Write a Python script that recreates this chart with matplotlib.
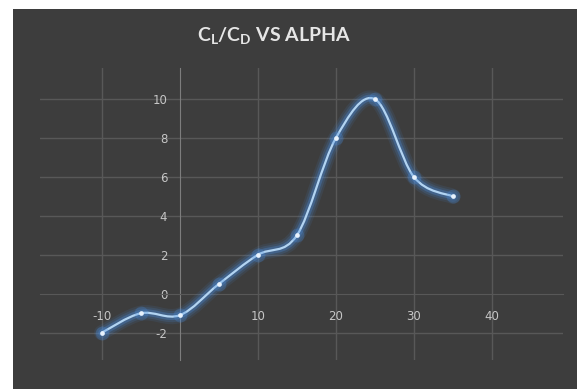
import matplotlib
matplotlib.use('Agg')
import matplotlib.pyplot as plt
from matplotlib.path import Path
from matplotlib.patches import PathPatch, Rectangle
import numpy as np

plt.rcParams['axes.unicode_minus'] = False

alpha = [-10, -5, 0, 5, 10, 15, 20, 25, 30, 35]
cl_cd = [-2, -1, -1.1, 0.5, 2, 3, 8, 10, 6, 5]
x_ticks = [-10, 10, 20, 30, 40]
x_labels = ['-10', '10', '20', '30', '40']
y_ticks = [-2, 0, 2, 4, 6, 8, 10]

bg = '#3d3d3d'
grid_c = '#585858'
text_c = '#c6c6c6'

fig = plt.figure(figsize=(5.77, 3.89), dpi=100)
fig.patch.set_facecolor('white')
fig.patches.append(Rectangle((13/577, 0), 1, 1 - 9/389, transform=fig.transFigure,
                             facecolor=bg, edgecolor='none', zorder=-10))

ax = fig.add_axes([40/577, 29/389, 523/577, 292/389])
ax.set_facecolor(bg)
ax.set_xlim(-17.9, 49.1)
ax.set_ylim(-3.4, 11.6)

# excel style smooth line: cubic bezier through the points
pts = np.column_stack([alpha, cl_cd]).astype(float)
verts = [tuple(pts[0])]
codes = [Path.MOVETO]
n = len(pts)
for i in range(n - 1):
    p0 = pts[max(i - 1, 0)]
    p1 = pts[i]
    p2 = pts[i + 1]
    p3 = pts[min(i + 2, n - 1)]
    c1 = p1 + (p2 - p0) / 6.0
    c2 = p2 - (p3 - p1) / 6.0
    verts += [tuple(c1), tuple(c2), tuple(p2)]
    codes += [Path.CURVE4] * 3
path = Path(verts, codes)

for lw, a in [(11, 0.10), (8, 0.16), (5, 0.30)]:
    ax.add_patch(PathPatch(path, facecolor='none', edgecolor='#4a8ee0', lw=lw,
                           alpha=a, capstyle='round', joinstyle='round', zorder=3))
ax.add_patch(PathPatch(path, facecolor='none', edgecolor='#b2d4f2', lw=1.6, zorder=4))

ax.plot(alpha, cl_cd, 'o', color='#4a8ee0', ms=10, alpha=0.25, mec='none', zorder=5)
ax.plot(alpha, cl_cd, 'o', color='#e8f2fc', ms=3.4, mec='none', zorder=6)

for s in ['top', 'right']:
    ax.spines[s].set_visible(False)
ax.spines['left'].set_position(('data', 0))
ax.spines['left'].set_color('#7d7d7d')
ax.spines['bottom'].set_position(('data', 0))
ax.spines['bottom'].set_color(grid_c)

ax.set_xticks(x_ticks)
ax.set_xticklabels(x_labels)
ax.set_yticks(y_ticks)
ax.tick_params(axis='both', length=0, colors=text_c, labelsize=8.5)
ax.tick_params(axis='x', pad=12)
ax.tick_params(axis='y', pad=9)

for v in x_ticks:
    ax.axvline(v, color=grid_c, lw=1, zorder=1)
for v in y_ticks:
    if v != 0:
        ax.axhline(v, color=grid_c, lw=1, zorder=1)

fig.text(274/577, 1 - 36/389, r'C$_\mathregular{L}$/C$_\mathregular{D}$ VS ALPHA',
         ha='center', va='center', color='#e6e6e6', fontsize=14,
         fontweight='bold', family='Lato')

fig.savefig('out.png', dpi=100, facecolor=fig.get_facecolor())
